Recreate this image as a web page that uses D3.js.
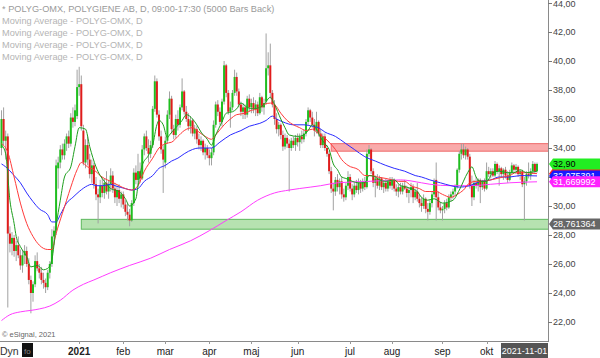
<!DOCTYPE html>
<html><head><meta charset="utf-8">
<script src="https://cdn.jsdelivr.net/npm/d3@7"></script>
<style>body{margin:0;background:#fff}svg{display:block;font-family:"Liberation Sans",Arial,sans-serif}</style>
</head><body><svg id="c" width="600" height="358"></svg>
<script>
const opens=[34.0,36.0,34.5,34.8,28.1,27.4,27.8,26.9,27.3,26.6,
25.9,26.6,26.9,26.0,24.9,24.0,24.6,26.2,25.7,25.4,
24.9,24.7,24.4,25.4,26.0,27.9,28.3,32.6,33.0,33.9,
33.5,34.3,34.8,34.3,36.1,35.8,36.2,38.2,38.4,35.2,
33.0,34.2,33.2,32.2,32.8,31.5,30.8,30.6,31.4,30.9,
31.6,31.0,31.5,32.1,31.2,30.6,31.1,30.5,30.8,30.1,
29.6,29.4,29.0,30.2,32.3,31.8,32.4,31.9,33.9,34.8,
34.0,33.6,34.2,36.7,38.6,36.3,34.8,33.9,33.0,34.5,
36.3,37.4,35.3,34.9,36.0,35.6,36.8,37.9,36.5,36.0,
35.5,35.9,35.0,35.3,34.6,34.2,34.5,33.7,34.0,33.5,
33.3,33.7,35.6,37.0,36.5,35.8,37.2,39.7,37.8,36.5,
36.8,37.8,38.9,37.9,37.0,36.5,36.8,36.3,37.4,36.8,
37.1,36.7,37.0,36.4,37.5,36.8,37.2,39.5,39.7,37.8,
37.0,36.0,35.3,35.6,34.9,34.1,34.7,34.3,34.0,34.5,
34.2,34.7,34.4,34.8,34.6,35.0,35.8,36.6,36.1,35.6,
35.2,35.8,35.0,34.2,34.8,34.0,33.6,32.4,31.2,31.0,
31.8,31.3,31.7,30.8,30.6,31.4,32.0,31.2,30.8,31.4,
31.1,31.6,31.2,31.7,31.3,33.6,33.9,32.4,31.6,31.9,
31.4,31.9,31.3,31.6,31.2,31.7,31.4,31.8,31.2,31.0,
31.3,31.0,31.4,31.2,30.9,31.1,31.3,30.6,31.0,30.5,
30.2,30.0,30.5,29.8,29.6,30.2,30.8,31.8,30.6,29.9,
29.7,29.8,30.2,29.9,30.6,30.8,31.0,31.3,32.5,33.6,
33.9,33.5,33.9,33.4,31.4,30.6,31.6,31.4,31.8,31.3,
31.7,31.2,32.4,32.2,32.4,32.1,32.9,32.4,32.6,32.2,
32.5,32.1,31.8,32.3,32.8,32.5,32.7,32.2,32.4,31.5,
31.7,32.2,32.1,32.4,32.9,32.4];
const highs=[36.6,36.8,35.2,35.0,28.6,28.2,28.0,27.6,27.9,27.0,
27.0,27.3,27.2,26.4,25.2,24.8,26.6,26.8,26.0,25.8,
25.4,25.0,25.6,26.2,28.4,28.6,33.2,33.4,34.2,34.3,
34.6,35.0,35.2,36.4,36.8,37.0,39.4,39.6,39.0,35.6,
34.6,34.8,33.6,33.2,33.0,32.0,31.2,31.8,32.0,31.9,
32.4,31.8,32.6,32.4,31.6,31.4,31.5,31.0,31.0,30.4,
30.2,29.8,30.4,32.6,32.8,33.6,33.0,34.2,35.0,35.2,
34.6,34.5,36.9,39.0,38.8,36.6,35.2,34.2,34.8,36.6,
37.9,37.6,35.6,36.3,36.6,37.0,38.8,38.0,36.9,36.4,
36.2,36.0,35.6,35.5,35.0,34.8,34.6,34.3,34.2,33.9,
34.0,35.9,37.2,37.3,36.8,37.4,40.0,39.8,38.0,37.2,
38.0,39.4,39.2,38.1,37.2,37.1,37.0,37.6,37.7,37.4,
37.5,37.3,37.2,37.8,37.6,37.4,41.9,40.6,41.2,38.0,
37.3,36.4,35.8,35.7,35.2,35.0,34.9,34.6,34.7,34.8,
34.9,35.0,35.0,35.2,35.3,36.0,36.8,36.7,36.5,36.0,
36.5,35.9,35.3,35.0,35.0,34.2,33.8,32.7,31.6,32.0,
32.2,31.9,32.0,31.2,31.6,32.4,32.2,31.5,31.6,31.8,
31.9,31.8,31.9,32.0,33.9,34.2,34.0,32.6,32.1,32.2,
32.1,32.0,31.8,31.9,31.8,32.0,32.0,31.9,31.5,31.5,
31.6,31.6,31.8,31.4,31.3,31.6,31.5,31.2,31.6,30.8,
30.6,30.8,30.6,30.2,30.4,31.0,31.9,33.0,31.0,30.3,
30.0,30.4,30.5,30.8,31.0,31.2,31.5,32.6,33.8,34.3,
34.3,34.1,34.0,33.6,32.1,31.8,32.0,31.9,31.9,31.8,
31.9,33.0,32.7,32.6,32.6,33.1,33.0,32.8,32.7,32.6,
32.7,32.4,32.5,33.0,32.9,32.9,32.8,32.5,32.5,32.0,
32.4,33.0,32.6,33.1,33.0,33.0];
const lows=[33.5,34.2,33.2,23.0,26.8,26.6,26.5,26.2,26.4,25.6,
25.4,26.0,25.8,24.6,22.6,23.4,24.4,25.5,25.0,24.6,
24.3,24.0,24.2,25.0,25.8,27.3,28.0,31.2,32.6,33.2,
33.2,33.8,34.0,34.1,35.4,35.5,36.0,37.6,35.2,32.8,
32.6,32.8,31.9,31.6,31.2,30.4,28.8,30.2,30.6,30.5,
30.8,30.5,31.0,30.9,30.2,30.0,30.2,29.9,29.8,29.3,
29.0,28.6,28.9,30.0,31.5,31.4,31.6,31.8,33.5,33.8,
33.0,33.3,34.0,36.5,36.1,34.5,33.6,30.9,32.6,34.3,
36.0,35.0,34.6,34.7,35.2,35.4,36.6,36.3,35.8,35.2,
35.0,34.8,34.6,34.3,33.9,33.8,33.5,33.2,33.3,32.8,
32.8,33.5,35.4,36.2,35.6,35.5,37.0,37.5,36.3,35.4,
36.6,37.6,37.6,36.8,36.2,36.0,36.0,36.1,36.5,36.4,
36.4,36.2,36.2,36.3,36.5,36.3,37.0,39.0,37.4,36.8,
35.6,35.0,34.8,34.6,33.8,33.9,34.0,31.0,33.8,34.0,
33.8,34.1,33.8,34.3,34.4,34.8,35.6,35.8,35.4,34.8,
35.0,34.8,34.0,34.0,33.8,33.4,32.2,30.9,29.7,30.7,
31.0,30.8,30.5,30.3,30.4,31.1,31.0,30.4,30.6,30.9,
30.8,30.9,31.0,31.1,31.2,33.4,32.2,31.3,30.6,31.2,
31.1,31.1,30.9,31.0,31.0,31.2,31.1,31.0,30.7,30.6,
30.8,30.8,31.1,30.6,30.2,30.6,30.2,30.4,30.3,29.9,
29.6,29.8,29.5,29.0,29.4,29.9,30.6,29.0,29.7,29.5,
29.0,29.5,29.7,29.8,30.3,30.5,30.7,31.2,32.3,33.2,
33.3,33.2,33.2,31.2,30.0,30.4,31.2,31.0,30.2,31.1,
31.0,31.1,32.0,31.9,32.0,32.0,32.2,31.4,32.0,31.8,
31.9,31.6,31.7,32.2,32.3,32.2,32.0,31.8,31.3,29.0,
31.4,31.9,31.8,32.2,32.2,32.3];
const closes=[36.0,34.5,34.8,28.1,27.4,27.8,26.9,27.3,26.6,25.9,
26.6,26.9,26.0,24.9,24.0,24.6,26.2,25.7,25.4,24.9,
24.7,24.4,25.4,26.0,27.9,28.3,32.8,33.0,33.9,33.5,
34.3,34.8,34.3,36.1,35.8,36.6,38.2,38.4,35.5,33.0,
34.2,33.2,32.2,32.8,31.5,30.8,30.6,31.4,30.9,31.6,
31.0,31.5,32.1,31.2,30.6,31.1,30.5,30.8,30.1,29.6,
29.4,29.0,30.2,32.3,31.8,32.4,31.9,33.9,34.8,34.0,
33.6,34.2,36.7,38.6,36.3,34.8,33.9,33.2,34.5,36.3,
37.4,35.3,34.9,36.0,35.6,36.8,37.9,36.5,36.0,35.5,
35.9,35.0,35.3,34.6,34.2,34.5,33.7,34.0,33.5,33.3,
33.7,35.6,37.0,36.5,35.8,37.2,39.7,37.8,36.5,36.8,
37.8,38.9,37.9,37.0,36.5,36.8,36.3,37.4,36.8,37.1,
36.7,37.0,36.4,37.5,36.8,37.1,39.5,39.7,37.8,37.0,
36.0,35.3,35.6,34.9,34.1,34.7,34.3,34.0,34.5,34.2,
34.7,34.4,34.8,34.6,35.0,35.8,36.6,36.1,35.6,35.2,
35.8,35.0,34.2,34.8,34.0,33.6,32.4,31.2,31.0,31.8,
31.3,31.7,30.8,30.6,31.4,32.0,31.2,30.8,31.4,31.1,
31.6,31.2,31.7,31.3,33.6,33.9,32.4,31.6,31.9,31.4,
31.9,31.3,31.6,31.2,31.7,31.4,31.8,31.2,31.0,31.3,
31.0,31.4,31.2,30.9,31.1,31.3,30.6,31.0,30.5,30.2,
30.0,30.5,29.8,29.6,30.2,30.8,31.7,30.6,29.9,29.7,
29.8,30.2,29.9,30.6,30.8,31.0,31.3,32.5,33.6,33.9,
33.5,33.9,33.4,31.4,30.6,31.6,31.4,31.8,31.3,31.7,
31.2,32.4,32.2,32.4,32.1,32.9,32.4,32.6,32.2,32.5,
32.1,31.8,32.3,32.8,32.5,32.7,32.2,32.4,31.5,31.7,
32.2,32.1,32.4,32.9,32.4,32.9];

// moving averages: [bar index, value]
const maGreen=[[0,34.2],[2,33.6],[4,30.4],[6,28.8],[7,27.9],[9,27.2],[12,26.5],[14,25.8],[17,25.9],[20,25.6],[22,25.7],[24,26.3],[26,28.6],[28,30.4],[30,32.0],[33,32.7],[35,34.1],[37,35.4],[40,35.3],[42,34.1],[45,32.7],[47,32.1],[49,31.7],[52,31.2],[56,31.0],[59,30.5],[61,30.0],[64,30.5],[65,31.4],[67,32.8],[70,33.5],[72,34.2],[74,35.6],[75,35.9],[77,35.6],[79,34.7],[80,34.9],[83,35.4],[86,35.9],[88,36.3],[91,36.0],[93,35.6],[95,35.1],[98,34.6],[100,34.2],[102,34.9],[105,35.8],[107,36.4],[110,36.5],[112,36.7],[114,37.1],[117,36.8],[120,36.7],[123,36.8],[125,37.0],[128,37.5],[130,37.0],[133,36.0],[135,35.4],[137,34.9],[141,34.8],[144,34.9],[146,35.2],[148,35.6],[150,35.3],[152,34.7],[154,34.3],[156,33.9],[158,32.9],[160,32.5],[162,32.0],[164,31.9],[167,31.7],[170,31.6],[173,31.6],[175,32.1],[178,32.0],[180,31.8],[183,31.7],[187,31.8],[190,31.4],[193,31.3],[195,31.2],[198,31.0],[200,30.6],[203,30.4],[206,30.5],[210,30.2],[215,30.4],[218,31.1],[222,32.3],[224,32.7],[226,32.0],[228,31.7],[231,31.7],[234,32.3],[237,32.4],[241,32.3],[244,32.3],[247,32.5],[250,32.3],[255,32.4]];
const maRed=[[0,34.3],[3,33.7],[6,32.0],[9,30.2],[12,28.8],[15,27.9],[18,27.3],[22,27.0],[24,27.0],[26,28.1],[29,29.5],[31,30.4],[33,31.3],[36,32.5],[38,33.0],[41,32.7],[44,32.5],[47,32.1],[49,31.9],[52,31.7],[56,31.4],[59,31.2],[62,31.1],[65,31.4],[68,32.4],[72,33.3],[75,34.0],[78,34.3],[81,34.4],[84,34.8],[87,35.2],[91,35.4],[94,35.1],[97,34.8],[100,34.6],[102,34.9],[106,35.6],[109,36.0],[112,36.3],[116,36.4],[119,36.6],[122,36.7],[125,37.0],[128,37.1],[130,37.0],[133,36.4],[136,35.9],[139,35.6],[142,35.4],[145,35.2],[148,35.3],[150,35.1],[153,34.8],[156,34.4],[159,33.9],[162,33.2],[165,32.8],[170,32.5],[173,32.1],[176,32.1],[179,32.0],[183,31.9],[186,31.8],[189,31.7],[192,31.7],[195,31.4],[199,31.2],[202,31.0],[204,31.0],[207,31.0],[210,30.8],[214,30.6],[217,30.8],[220,31.1],[223,31.6],[226,31.7],[229,31.7],[233,31.8],[236,31.9],[239,32.0],[242,32.1],[245,32.3],[248,32.3],[255,32.23]];
const maBlue=[[0,32.9],[2,32.7],[6,32.1],[9,31.6],[12,30.9],[15,30.3],[18,29.8],[22,29.4],[24,28.9],[26,28.9],[28,29.4],[31,30.2],[34,30.6],[37,31.0],[41,31.4],[43,31.5],[45,31.4],[48,31.4],[52,31.5],[54,31.4],[59,31.2],[62,31.1],[65,31.2],[68,31.7],[72,32.1],[75,32.6],[78,32.8],[81,33.1],[84,33.3],[87,33.6],[91,33.9],[94,34.0],[97,34.0],[100,34.0],[104,34.4],[109,34.9],[114,35.2],[118,35.5],[123,35.7],[126,35.9],[129,36.2],[131,36.0],[134,35.8],[139,35.6],[144,35.6],[148,35.5],[151,35.4],[154,35.1],[159,34.8],[164,34.3],[168,33.9],[173,33.4],[178,33.1],[183,32.8],[187,32.6],[192,32.4],[197,32.1],[200,32.0],[204,31.8],[209,31.6],[214,31.4],[218,31.3],[223,31.4],[228,31.7],[233,31.8],[237,32.0],[242,32.0],[247,32.1],[255,32.075]];
const maMagenta=[[0,22.1],[4,22.5],[9,22.7],[14,22.8],[18,22.9],[23,23.1],[28,23.5],[34,24.2],[39,24.6],[44,24.9],[52,25.4],[61,25.9],[71,26.4],[80,27.0],[90,27.6],[99,28.3],[107,29.0],[114,29.6],[122,30.4],[130,30.9],[137,31.1],[147,31.3],[152,31.4],[160,31.6],[175,31.7],[190,31.8],[200,31.6],[204,31.5],[214,31.4],[223,31.4],[233,31.5],[242,31.6],[255,31.67]];

const yTicks=[22,24,26,28,30,32,34,36,38,40,42,44];
const monthLabels=["2021","feb","mar","apr","maj","jun","jul","aug","sep","okt"];
const monthIdx=[37,58,78,99,119,141,166,186,210,231];
const zoneStart=[38,157];
const zoneTop=[29.08,34.3];
const zoneBottom=[28.4,33.78];
const zoneFill=["#b6e2b0","#f9aaaa"];
const zoneStroke=["#5cb85c","#ee6b6b"];
const legendLines=["* POLYG-OMX, POLYGIENE AB, D, 09:00-17:30 (5000 Bars Back)","Moving Average - POLYG-OMX, D","Moving Average - POLYG-OMX, D","Moving Average - POLYG-OMX, D","Moving Average - POLYG-OMX, D"];
const tagValues=[32.231556,32.90,32.075391,31.669992,28.761364];
const tagTexts=["32,231556","32,90","32,075391","31,669992","28,761364"];
const tagFill=["#ff2020","#22ee22","#1818ff","#ff22ff","#666666"];
const tagInk=["#fff","#000","#fff","#fff","#fff"];

const svg=d3.select("#c");
const W=548, H=341;
const x=d3.scaleLinear().domain([0,255]).range([1.5,537]);
const y=d3.scaleLinear().domain([22,44]).range([322,3]);

svg.append("defs").append("clipPath").attr("id","clip").append("rect").attr("x",0).attr("y",0).attr("width",W).attr("height",H);
const plot=svg.append("g").attr("clip-path","url(#clip)");

// zones
zoneStart.forEach((s,k)=>{
  plot.append("rect").attr("x",x(s)).attr("y",y(zoneTop[k])).attr("width",W-x(s)+2)
    .attr("height",y(zoneBottom[k])-y(zoneTop[k])).attr("fill",zoneFill[k]).attr("stroke",zoneStroke[k]).attr("stroke-width",1);
});

// candles
const idx=d3.range(closes.length);
plot.append("g").selectAll("line").data(idx).join("line")
  .attr("x1",i=>x(i)).attr("x2",i=>x(i)).attr("y1",i=>y(highs[i])).attr("y2",i=>y(lows[i]))
  .attr("stroke","#a2a2a2").attr("stroke-width",1);
plot.append("g").selectAll("rect").data(idx).join("rect")
  .attr("x",i=>x(i)-1).attr("width",2)
  .attr("y",i=>y(Math.max(opens[i],closes[i])))
  .attr("height",i=>Math.max(1,Math.abs(y(opens[i])-y(closes[i]))))
  .attr("fill",i=>closes[i]>=opens[i]?"#1fbf1f":"#e01c1c");

// moving averages
const line=d3.line().x(d=>x(d[0])).y(d=>y(d[1])).curve(d3.curveMonotoneX);
[[maMagenta,"#ff3cff"],[maBlue,"#2b2bff"],[maRed,"#ff3a3a"],[maGreen,"#1e9e1e"]].forEach(([d,c])=>{
  plot.append("path").datum(d).attr("d",line).attr("fill","none").attr("stroke",c).attr("stroke-width",1);
});

// right axis
svg.append("line").attr("x1",W+0.5).attr("x2",W+0.5).attr("y1",0).attr("y2",H).attr("stroke","#8a8a8a");
svg.append("line").attr("x1",0).attr("x2",W+1).attr("y1",H+0.5).attr("y2",H+0.5).attr("stroke","#8a8a8a");
const fmt=v=>d3.format(".2f")(v).replace(".",",");
const ya=svg.append("g");
yTicks.forEach(t=>{
  const yy=Math.max(y(t),4);
  ya.append("line").attr("x1",W).attr("x2",W+4).attr("y1",Math.round(y(t))+0.5).attr("y2",Math.round(y(t))+0.5).attr("stroke","#777");
  ya.append("text").attr("x",W+5).attr("y",yy+3.3).attr("font-size","9px").attr("fill","#444").text(fmt(t));
});

// price tags
tagValues.forEach((v,k)=>{
  const yy=y(v);
  svg.append("path").attr("d",`M${W+1},${yy} L${W+5},${yy-5.5} L600,${yy-5.5} L600,${yy+5.5} L${W+5},${yy+5.5} Z`).attr("fill",tagFill[k]);
  svg.append("text").attr("x",W+5).attr("y",yy+3.3).attr("font-size","9px").attr("fill",tagInk[k]).text(tagTexts[k]);
});

// legend
legendLines.forEach((t,k)=>{
  svg.append("text").attr("x",2).attr("y",12+k*12).attr("font-size","9.2px")
    .attr("fill",k===0?"#9a9a9a":"#b4b4b4").text(t);
});
svg.append("text").attr("x",2).attr("y",337).attr("font-size","7.5px").attr("fill","#666").text("© eSignal, 2021");

// date axis
monthLabels.forEach((m,k)=>{
  const xx=x(monthIdx[k]);
  svg.append("line").attr("x1",Math.round(xx)+0.5).attr("x2",Math.round(xx)+0.5).attr("y1",H).attr("y2",H+3).attr("stroke","#999");
  svg.append("text").attr("x",xx).attr("y",355).attr("text-anchor","middle").attr("font-size","10px")
    .attr("font-weight",k===0?"bold":"normal").attr("fill","#222").text(m);
});
svg.append("text").attr("x",0).attr("y",355).attr("font-size","10.5px").attr("fill","#333").text("Dyn");
svg.append("rect").attr("x",22).attr("y",343).attr("width",11).attr("height",14).attr("fill","#111");
svg.append("text").attr("x",24).attr("y",354).attr("font-size","8px").attr("fill","#888").text("fo");
svg.append("rect").attr("x",501).attr("y",343).attr("width",47).attr("height",15).attr("fill","#555");
svg.append("text").attr("x",524.5).attr("y",354).attr("text-anchor","middle").attr("font-size","9px").attr("fill","#fff").text("2021-11-01");
</script></body></html>
